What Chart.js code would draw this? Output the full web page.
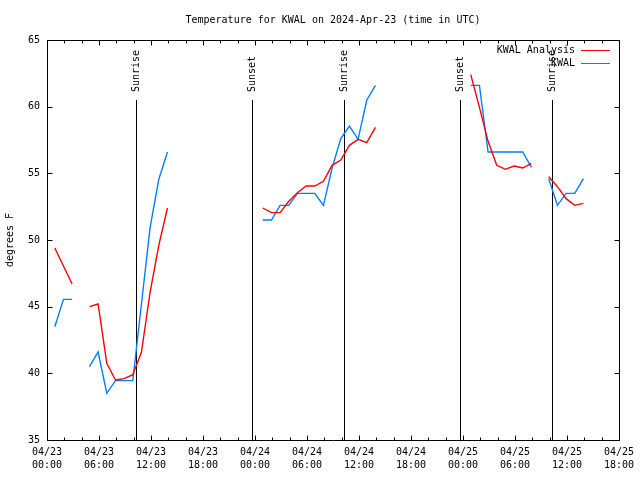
<!DOCTYPE html>
<html><head><meta charset="utf-8">
<script src="https://cdn.jsdelivr.net/npm/chart.js@4.4.0/dist/chart.umd.min.js"></script>
<style>html,body{margin:0;padding:0;background:#fff}canvas{display:block}</style>
</head><body>
<canvas id="c" width="640" height="480"></canvas>
<script>
const TITLE = 'Temperature for KWAL on 2024-Apr-23 (time in UTC)';
const Y_TITLE = 'degrees F';
const DAY_LABELS = ['04/23', '04/24', '04/25'];
const SERIES_NAMES = ['KWAL Analysis', 'KWAL'];
const SERIES_COLORS = ['#ff0000', '#0080ff'];

// hours since 04/23 00:00 UTC
const hours = [0.9,1.9,2.9,3.9,4.9,5.9,6.9,7.9,8.9,9.9,
  10.9,11.9,12.9,13.9,14.9,15.9,16.9,17.9,18.9,19.9,
  20.9,21.9,22.9,23.9,24.9,25.9,26.9,27.9,28.9,29.9,
  30.9,31.9,32.9,33.9,34.9,35.9,36.9,37.9,38.9,39.9,
  40.9,41.9,42.9,43.9,44.9,45.9,46.9,47.9,48.9,49.9,
  50.9,51.9,52.9,53.9,54.9,55.9,56.9,57.9,58.9,59.9,
  60.9,61.9];

const analysis = [49.4,48.05,46.7,null,45.0,45.2,40.75,39.5,39.6,39.9,
  41.6,46.1,49.6,52.4,null,null,null,null,null,null,
  null,null,null,null,52.4,52.05,52.05,52.9,53.55,54.05,
  54.05,54.4,55.6,56.0,57.1,57.55,57.3,58.45,null,null,
  null,null,null,null,null,null,null,null,62.4,59.95,
  57.4,55.6,55.3,55.55,55.4,55.75,null,54.75,54.0,53.1,
  52.6,52.75];

const observed = [43.5,45.55,45.55,null,40.5,41.6,38.5,39.45,39.45,39.45,
  45.2,50.95,54.55,56.6,null,null,null,null,null,null,
  null,null,null,null,51.5,51.5,52.6,52.6,53.5,53.5,
  53.5,52.6,55.4,57.6,58.55,57.55,60.5,61.6,null,null,
  null,null,null,null,null,null,null,null,61.6,61.6,
  56.6,56.6,56.6,56.6,56.6,55.45,null,54.6,52.6,53.5,
  53.5,54.6];

const sunLabels = ['Sunrise', 'Sunset', 'Sunrise', 'Sunset', 'Sunrise'];
const sunHours = [10.32, 23.63, 34.31, 47.67, 58.3];

const FONT = '10px "DejaVu Sans Mono"';

const gnuplotDecor = {
  id: 'gnuplotDecor',
  beforeDatasetsDraw(chart) {
    const {ctx, chartArea: a, scales: {x}} = chart;
    ctx.save();
    ctx.strokeStyle = '#000';
    ctx.fillStyle = '#000';
    ctx.lineWidth = 1;
    ctx.font = FONT;
    const h = a.bottom - a.top;
    sunHours.forEach((sh, i) => {
      const px = Math.round(x.getPixelForValue(sh)) + 0.5;
      ctx.beginPath();
      ctx.moveTo(px, a.bottom);
      ctx.lineTo(px, a.bottom - 0.85 * h);
      ctx.stroke();
      ctx.save();
      ctx.translate(px, a.bottom - 0.87 * h);
      ctx.rotate(-Math.PI / 2);
      ctx.textAlign = 'left';
      ctx.textBaseline = 'middle';
      ctx.fillText(sunLabels[i], 0, 0);
      ctx.restore();
    });
    ctx.restore();
  },
  afterDraw(chart) {
    const {ctx, chartArea: a, scales: {x, y}} = chart;
    ctx.save();
    ctx.strokeStyle = '#000';
    ctx.lineWidth = 1;
    const L = Math.round(a.left) + 0.5, R = Math.round(a.right) + 0.5;
    const T = Math.round(a.top) + 0.5, B = Math.round(a.bottom) + 0.5;
    ctx.beginPath();
    ctx.rect(L, T, R - L, B - T);
    x.ticks.forEach(t => {
      const px = Math.round(x.getPixelForValue(t.value)) + 0.5;
      const len = t.value % 6 === 0 ? 5 : 3;
      ctx.moveTo(px, B); ctx.lineTo(px, B - len);
      ctx.moveTo(px, T); ctx.lineTo(px, T + len);
    });
    y.ticks.forEach(t => {
      const py = Math.round(y.getPixelForValue(t.value)) + 0.5;
      ctx.moveTo(L, py); ctx.lineTo(L + 5, py);
      ctx.moveTo(R, py); ctx.lineTo(R - 5, py);
    });
    ctx.stroke();

    // title
    ctx.fillStyle = '#000';
    ctx.font = FONT;
    ctx.textAlign = 'center';
    ctx.textBaseline = 'middle';
    ctx.fillText(TITLE, (a.left + a.right) / 2, 20);

    // key (top right)
    chart.data.datasets.forEach((ds, i) => {
      const ky = 50 + i * 13;
      ctx.textAlign = 'right';
      ctx.fillStyle = '#000';
      ctx.fillText(ds.label, 575, ky);
      ctx.strokeStyle = ds.borderColor;
      ctx.beginPath();
      ctx.moveTo(581, ky + 0.5);
      ctx.lineTo(610, ky + 0.5);
      ctx.stroke();
    });
    ctx.restore();
  }
};

new Chart(document.getElementById('c'), {
  type: 'line',
  data: {
    datasets: [
      {label: SERIES_NAMES[0], data: hours.map((h, i) => ({x: h, y: analysis[i]})),
       borderColor: SERIES_COLORS[0], backgroundColor: SERIES_COLORS[0]},
      {label: SERIES_NAMES[1], data: hours.map((h, i) => ({x: h, y: observed[i]})),
       borderColor: SERIES_COLORS[1], backgroundColor: SERIES_COLORS[1]}
    ]
  },
  options: {
    responsive: false,
    animation: false,
    devicePixelRatio: 1,
    spanGaps: false,
    elements: {
      line: {borderWidth: 1.4, tension: 0, fill: false},
      point: {radius: 0, hoverRadius: 0}
    },
    layout: {padding: {top: 40, right: 19, left: 0, bottom: 0}},
    plugins: {legend: {display: false}, title: {display: false}, tooltip: {enabled: false}},
    scales: {
      x: {
        type: 'linear', min: 0, max: 66,
        grid: {display: false, drawTicks: false},
        border: {display: false},
        afterFit: s => { s.height = 40; },
        ticks: {
          stepSize: 2, autoSkip: false, maxRotation: 0, padding: 6,
          color: '#000', font: {family: 'DejaVu Sans Mono', size: 10, lineHeight: 1.3},
          callback: v => {
            if (v % 6 !== 0) return '';
            const d = Math.floor(v / 24), hh = v % 24;
            return [DAY_LABELS[d] || '04/' + (23 + d), String(hh).padStart(2, '0') + ':00'];
          }
        }
      },
      y: {
        min: 35, max: 65,
        grid: {display: false, drawTicks: false},
        border: {display: false},
        afterFit: s => { s.width = 47; },
        title: {display: true, text: Y_TITLE, color: '#000',
                font: {family: 'DejaVu Sans Mono', size: 10}, padding: {top: 4, bottom: 0}},
        ticks: {stepSize: 5, padding: 7, color: '#000',
                font: {family: 'DejaVu Sans Mono', size: 10}}
      }
    }
  },
  plugins: [gnuplotDecor]
});
</script>
</body></html>
